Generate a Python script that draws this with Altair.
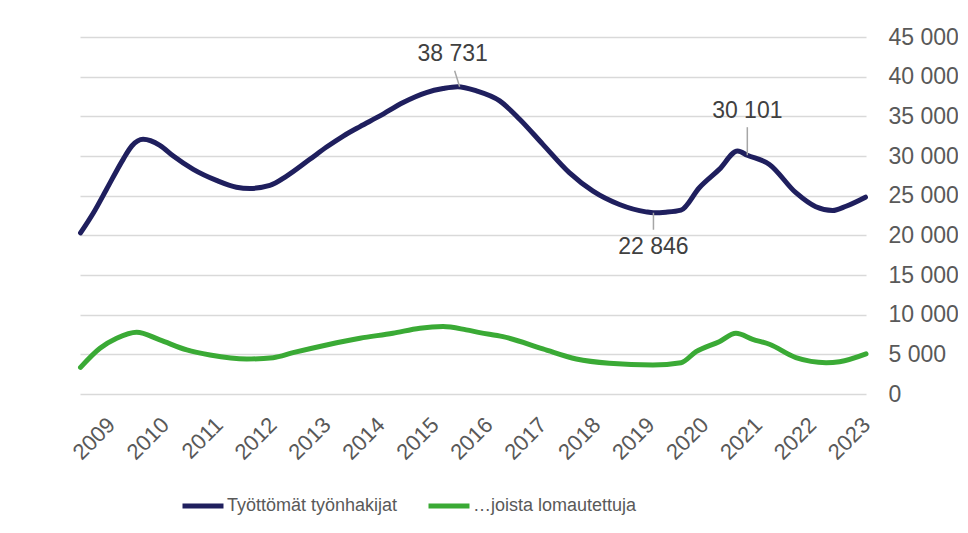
import altair as alt
import pandas as pd

# --- data (fractional year, value) ---
navy_t = [2008.51, 2008.75, 2008.99, 2009.30, 2009.46, 2009.67, 2009.98, 2010.23, 2010.60,
          2011.03, 2011.40, 2011.65, 2012.02, 2012.33, 2012.76, 2013.07, 2013.38, 2013.69,
          2014.06, 2014.49, 2014.92, 2015.23, 2015.50, 2015.85, 2016.28, 2016.65, 2017.08,
          2017.57, 2018.01, 2018.50, 2018.99, 2019.13, 2019.36, 2019.64, 2019.98, 2020.35,
          2020.69, 2020.87, 2021.28, 2021.77, 2022.14, 2022.45, 2022.70, 2023.06]
navy_v = [20300, 22840, 25780, 29580, 31260, 32100, 31350, 29990, 28310,
          26920, 26070, 25910, 26290, 27470, 29580, 31130, 32520, 33710,
          35050, 36750, 38000, 38500, 38731, 38210, 36950, 34640, 31470,
          27900, 25570, 23890, 22960, 22846, 22910, 23170, 26000, 28310,
          30630, 30101, 28940, 25370, 23600, 23130, 23670, 24810]

green_t = [2008.51, 2008.87, 2009.18, 2009.55, 2009.98, 2010.48, 2010.91, 2011.59, 2012.08,
           2012.45, 2013.07, 2013.69, 2014.30, 2014.80, 2015.23, 2015.66, 2015.91, 2016.34,
           2017.08, 2017.70, 2018.31, 2019.12, 2019.64, 2019.92, 2020.35, 2020.66, 2020.97,
           2021.28, 2021.77, 2022.33, 2022.58, 2023.07]
green_v = [3360, 5770, 7030, 7790, 6820, 5550, 4920, 4410, 4580,
           5210, 6180, 7030, 7660, 8300, 8500, 8080, 7740, 7230,
           5680, 4410, 3870, 3650, 3950, 5340, 6600, 7660, 6900,
           6270, 4580, 3950, 4070, 5050]

series_names = ["Työttömät työnhakijat", "…joista lomautettuja"]
series_colors = ["#1F1F5E", "#3AAA35"]

year_ticks = list(range(2009, 2024))
y_ticks = list(range(0, 45001, 5000))

ann_labels = ["38 731", "30 101", "22 846"]
ann_t = [2015.50, 2020.87, 2019.13]
ann_v = [38731, 30101, 22846]

# --- tables ---
df = pd.concat([
    pd.DataFrame({"t": navy_t, "v": navy_v, "s": series_names[0]}),
    pd.DataFrame({"t": green_t, "v": green_v, "s": series_names[1]}),
])
ann = pd.DataFrame({"label": ann_labels, "t": ann_t, "v": ann_v})

FONT = "Liberation Sans"

x_scale = alt.Scale(domain=[2008.5, 2023.07], nice=False, zero=False)
y_scale = alt.Scale(domain=[0, 45000], nice=False)

x_axis = alt.Axis(values=year_ticks, format="d", labelAngle=315,
                  labelAlign="right", labelBaseline="middle",
                  labelFontSize=22, labelColor="#595959", labelFont=FONT,
                  labelPadding=27, labelOffset=4,
                  labelOverlap=False, labelBound=False, labelFlush=False,
                  grid=False, domain=False, ticks=False)
y_axis = alt.Axis(orient="right", values=y_ticks,
                  labelExpr="replace(format(datum.value, ','), ',', ' ')",
                  labelFontSize=23, labelColor="#595959", labelFont=FONT,
                  labelPadding=22, labelOverlap=False, labelFlush=False,
                  grid=True, gridColor="#d9d9d9",
                  gridWidth=1.5, domain=False, ticks=False)

X = lambda: alt.X("t:Q", scale=x_scale, title=None, axis=x_axis)
Y = lambda: alt.Y("v:Q", scale=y_scale, title=None, axis=y_axis)

lines = alt.Chart(df).mark_line(
    strokeWidth=5, interpolate="monotone", strokeCap="round", strokeJoin="round"
).encode(
    x=X(), y=Y(),
    color=alt.Color("s:N", scale=alt.Scale(domain=series_names, range=series_colors),
                    sort=series_names,
                    legend=alt.Legend(orient="none", legendX=100, legendY=446,
                                      direction="horizontal", title=None,
                                      symbolType="stroke", symbolSize=1680,
                                      symbolStrokeWidth=5, labelOffset=1,
                                      columnPadding=20, labelLimit=0,
                                      labelFont=FONT,
                                      labelFontSize=18, labelColor="#595959")),
)

layers = [lines]
leader_offsets = [(2, -3, 0, -16), (0, 0, 0, -28), (0, 0, 0, 17)]
text_offsets = [(-5, -33), (0, -44), (0, 34)]
for i in range(len(ann_labels)):
    sub = ann.iloc[[i]]
    xo, x2o, yo, y2o = leader_offsets[i]
    rule = alt.Chart(sub).mark_rule(
        color="#a6a6a6", strokeWidth=1.5,
        xOffset=xo, x2Offset=x2o, yOffset=yo, y2Offset=y2o
    ).encode(x=X(), x2="t:Q", y=Y(), y2="v:Q")
    dx, dy = text_offsets[i]
    txt = alt.Chart(sub).mark_text(
        font=FONT, fontSize=23, color="#404040", dx=dx, dy=dy,
        align="center", baseline="middle"
    ).encode(x=X(), y=Y(), text="label:N")
    layers += [rule, txt]

chart = alt.layer(*layers).properties(
    width=786, height=357,
    autosize=alt.AutoSizeParams(type="none"),
    padding={"left": 72, "top": 29, "right": 92, "bottom": 130},
    background="white",
).configure_view(stroke=None)

chart.save("out.html", embed_options={"renderer": "svg", "actions": False})
